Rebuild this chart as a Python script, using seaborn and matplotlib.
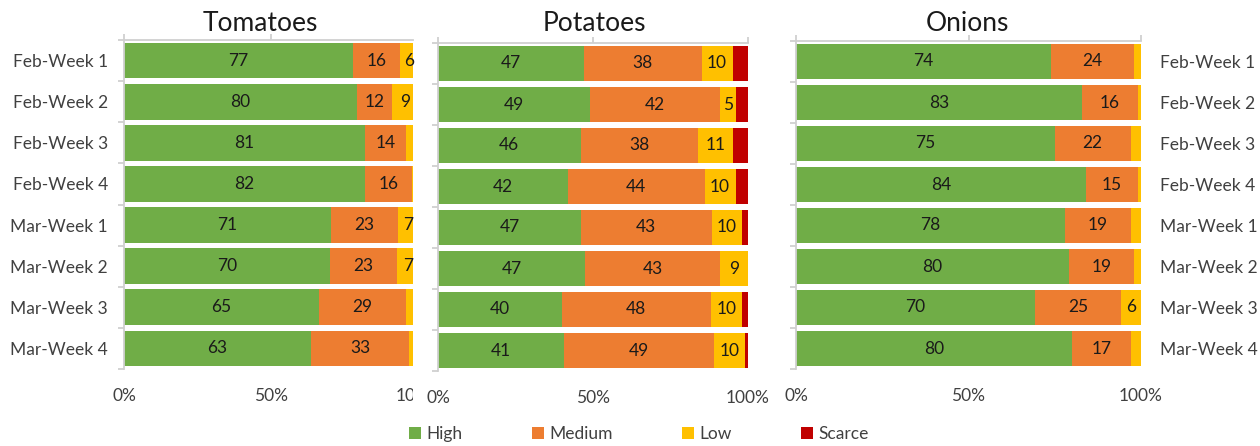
import numpy as np
import pandas as pd
import seaborn as sns
import matplotlib.pyplot as plt
from matplotlib.patches import Patch
from matplotlib.transforms import Bbox, TransformedBbox, blended_transform_factory, offset_copy

# ---- data -----------------------------------------------------------------
weeks = ['Feb-Week 1', 'Feb-Week 2', 'Feb-Week 3', 'Feb-Week 4',
         'Mar-Week 1', 'Mar-Week 2', 'Mar-Week 3', 'Mar-Week 4']
levels = ['High', 'Medium', 'Low', 'Scarce']

tomatoes_high = [77, 80, 81, 82, 71, 70, 65, 63]
tomatoes_medium = [16, 12, 14, 16, 23, 23, 29, 33]
tomatoes_low = [6, 9, 4, 2, 7, 7, 4, 3]
tomatoes_scarce = [0, 0, 0, 0, 0, 0, 0, 0]

potatoes_high = [47, 49, 46, 42, 47, 47, 40, 41]
potatoes_medium = [38, 42, 38, 44, 43, 43, 48, 49]
potatoes_low = [10, 5, 11, 10, 10, 9, 10, 10]
potatoes_scarce = [5, 4, 5, 4, 2, 0, 2, 1]

onions_high = [74, 83, 75, 84, 78, 80, 70, 80]
onions_medium = [24, 16, 22, 15, 19, 19, 25, 17]
onions_low = [2, 1, 3, 1, 3, 2, 6, 3]
onions_scarce = [0, 0, 0, 0, 0, 0, 0, 0]

level_colors = ['#70AD47', '#ED7D31', '#FFC000', '#C00000']
labelled_levels = ['High', 'Medium', 'Low']

# ---- style ----------------------------------------------------------------
sns.set_theme(style='white')
plt.rcParams['font.family'] = ['Lato', 'DejaVu Sans']
TXT = '#404040'
AXC = '#D0D0D0'
FS = 12.5

W, H = 1260, 446
fig = plt.figure(figsize=(W / 100, H / 100), dpi=100)
fig.patch.set_facecolor('white')


def axes_px(left, right, top, bottom):
    return fig.add_axes([left / W, 1 - bottom / H, (right - left) / W, (bottom - top) / H])


def long_frame(high, medium, low, scarce):
    vals = np.array([high, medium, low, scarce], dtype=float)
    shares = vals / vals.sum(axis=0) * 100
    cum = np.cumsum(shares, axis=0)
    rows = []
    for k, lev in enumerate(levels):
        for i, wk in enumerate(weeks):
            rows.append(dict(Week=wk, Level=lev, Value=int(vals[k, i]),
                             Share=shares[k, i], Cum=cum[k, i]))
    return pd.DataFrame(rows)


TICK_LEN = 4
TICK_PAD = 10


def draw_panel(ax, df, xmax, ylabels='left'):
    # stacked bars: draw cumulative totals from the outermost segment inwards
    for lev, col in reversed(list(zip(levels, level_colors))):
        sub = df[df.Level == lev]
        sns.barplot(data=sub, x='Cum', y='Week', order=weeks, color=col,
                    saturation=1, width=0.87, linewidth=0, orient='h', ax=ax)
    for _, r in df.iterrows():
        if r.Level in labelled_levels and r.Value >= 5:
            ax.text(r.Cum - r.Share / 2, weeks.index(r.Week), f'{r.Value}',
                    ha='center', va='center', fontsize=FS, color='#1a1a1a')
    ax.set_xlim(0, xmax)
    ax.set_ylim(len(weeks) - 0.5, -0.5)
    ax.set_xlabel('')
    ax.set_ylabel('')
    ax.set_facecolor('white')
    for s in ['right', 'bottom']:
        ax.spines[s].set_visible(False)
    for s in ['left', 'top']:
        ax.spines[s].set_visible(True)
        ax.spines[s].set_color(AXC)
        ax.spines[s].set_linewidth(1.3)
    ticks = [t for t in (0, 50, 100) if t <= xmax]
    ax.set_xticks(ticks)
    ax.set_xticklabels([f'{t}%' for t in ticks])
    ax.tick_params(axis='x', bottom=False, top=True, labelbottom=True, labeltop=False,
                   direction='out', length=TICK_LEN, width=1.3, color=AXC,
                   pad=TICK_PAD, labelsize=FS, labelcolor=TXT)
    ax.set_yticks(range(len(weeks)))
    ax.set_yticks(np.arange(-0.5, len(weeks), 1), minor=True)
    ax.tick_params(axis='y', which='minor', left=True, right=False, direction='out',
                   length=TICK_LEN, width=1.3, color=AXC)
    if ylabels == 'left':
        ax.set_yticklabels(weeks)
        ax.tick_params(axis='y', which='major', left=False, right=False,
                       labelleft=True, labelright=False, pad=5.5, labelsize=FS,
                       labelcolor=TXT)
    elif ylabels == 'right':
        ax.set_yticklabels(weeks)
        ax.tick_params(axis='y', which='major', left=False, right=False,
                       labelleft=False, labelright=True, pad=8, labelsize=FS,
                       labelcolor=TXT)
    else:
        ax.tick_params(axis='y', which='major', left=False, right=False,
                       labelleft=False, labelright=False)


tom = long_frame(tomatoes_high, tomatoes_medium, tomatoes_low, tomatoes_scarce)
pot = long_frame(potatoes_high, potatoes_medium, potatoes_low, potatoes_scarce)
oni = long_frame(onions_high, onions_medium, onions_low, onions_scarce)

ax_t = axes_px(124, 413, 40, 369)
draw_panel(ax_t, tom, 98.3, 'left')
ax_p = axes_px(438, 748, 43, 371)
draw_panel(ax_p, pot, 100, 'none')
ax_o = axes_px(796, 1141, 41, 369)
draw_panel(ax_o, oni, 100, 'right')

# the tomatoes panel is cut short, so its 100% label is cut off as well
trans = offset_copy(blended_transform_factory(ax_t.transData, ax_t.transAxes),
                    fig=fig, y=-(TICK_LEN + TICK_PAD), units='points')
t100 = ax_t.text(100, 0, '100%', transform=trans, ha='center', va='top',
                 fontsize=FS, color=TXT)
t100.set_clip_box(TransformedBbox(Bbox([[0, 0], [413 / W, 1]]), fig.transFigure))
t100.set_clip_on(True)

# panel titles
for name, xc in [('Tomatoes', 260), ('Potatoes', 594), ('Onions', 967)]:
    fig.text(xc / W, 1 - 31 / H, name, ha='center', va='baseline',
             fontsize=19, color='#1a1a1a')

handles = [Patch(facecolor=c, edgecolor='none') for c in level_colors]
fig.legend(handles, levels, loc='center', bbox_to_anchor=(639 / W, 1 - 434 / H),
           ncol=4, frameon=False, handlelength=0.7, handleheight=0.7,
           handletextpad=0.3, columnspacing=4.0, fontsize=FS, labelcolor=TXT)

fig.savefig('out.png', dpi=100, facecolor='white')
